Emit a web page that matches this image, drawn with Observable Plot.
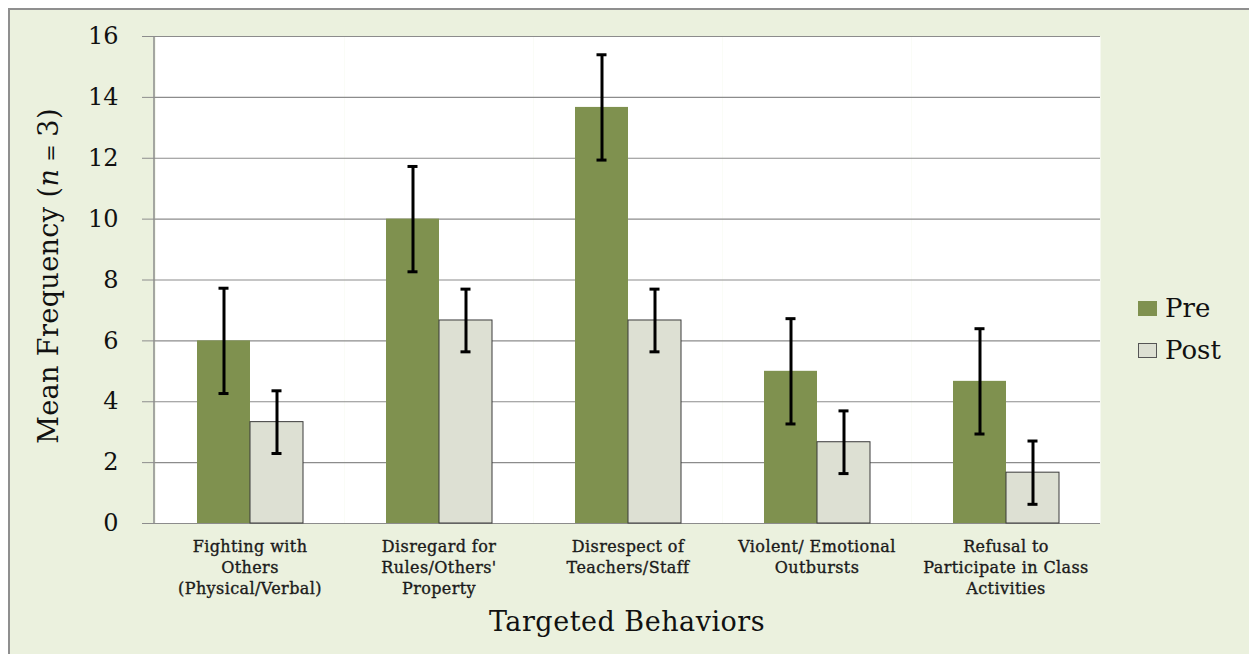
<!DOCTYPE html>
<html>
<head>
<meta charset="utf-8">
<script src="https://cdn.jsdelivr.net/npm/d3@7"></script>
<script src="https://cdn.jsdelivr.net/npm/@observablehq/plot@0.6"></script>
<style>
  html, body { margin: 0; padding: 0; background: #ffffff; }
  #wrap { position: relative; width: 1249px; height: 654px; overflow: hidden; }
  #panel { position: absolute; left: 8px; top: 8px; width: 1260px; height: 660px;
           background: #ebf1de; border: 2px solid #8f8f8f; box-sizing: border-box; }
  #chart { position: absolute; left: 0; top: 0; }
  #chart svg { background: transparent !important; }
  .legend { position: absolute; left: 1138px; font-family: "DejaVu Serif", serif;
            font-size: 26px; color: #111; display: flex; align-items: center; }
  .sw { width: 19px; height: 15px; margin-right: 8px; box-sizing: border-box; }
  .fxlab text { stroke: #1a1a1a; stroke-width: 0.35px; letter-spacing: 0.4px; }
</style>
</head>
<body>
<div id="wrap">
  <div id="panel"></div>
  <div id="chart"></div>
  <div class="legend" style="top:293px"><div class="sw" style="background:#7f914f"></div>Pre</div>
  <div class="legend" style="top:335px"><div class="sw" style="background:#dde0d3;border:1px solid #555"></div>Post</div>
</div>
<script>
const categories = [
  "Fighting with Others (Physical/Verbal)",
  "Disregard for Rules/Others' Property",
  "Disrespect of Teachers/Staff",
  "Violent/ Emotional Outbursts",
  "Refusal to Participate in Class Activities"
];
const tickLabels = [
  "Fighting with\nOthers\n(Physical/Verbal)",
  "Disregard for\nRules/Others'\nProperty",
  "Disrespect of\nTeachers/Staff",
  "Violent/ Emotional\nOutbursts",
  "Refusal to\nParticipate in Class\nActivities"
];
const series = ["Pre", "Post"];
const preValues = [6.0, 10.0, 13.67, 5.0, 4.67];
const postValues = [3.33, 6.67, 6.67, 2.67, 1.67];
const preErrors = [1.73, 1.73, 1.73, 1.73, 1.73];
const postErrors = [1.03, 1.03, 1.03, 1.03, 1.04];
const yTicks = [0, 2, 4, 6, 8, 10, 12, 14, 16];

const data = [];
categories.forEach((c, i) => {
  data.push({cat: c, series: "Pre", value: preValues[i], err: preErrors[i]});
  data.push({cat: c, series: "Post", value: postValues[i], err: postErrors[i]});
});
const labelOf = new Map(categories.map((c, i) => [c, tickLabels[i]]));

const chart = Plot.plot({
  width: 1249,
  height: 654,
  marginLeft: 154,
  marginRight: 148,
  marginTop: 36,
  marginBottom: 131,
  style: {background: "transparent", fontFamily: "DejaVu Serif, serif", color: "#111"},
  fx: {domain: categories, padding: 0, label: null},
  x: {domain: series, paddingInner: 0, paddingOuter: 0.767, axis: null},
  y: {domain: [0, 16], ticks: yTicks, label: null},
  marks: [
    Plot.frame({fill: "white", stroke: null}),
    Plot.ruleY(yTicks, {stroke: "#8c8c8c", strokeWidth: 1.2}),
    Plot.barY(data.filter(d => d.series === "Pre"), {fx: "cat", x: "series", y: "value", fill: "#7f914f"}),
    Plot.barY(data.filter(d => d.series === "Post"), {fx: "cat", x: "series", y: "value", fill: "#dde0d3", stroke: "#3a3a3a", strokeWidth: 1}),
    Plot.ruleX(data, {fx: "cat", x: "series", y1: d => d.value - d.err, y2: d => d.value + d.err, stroke: "#000", strokeWidth: 3}),
    Plot.tickY(data, {fx: "cat", x: "series", y: d => d.value + d.err, stroke: "#000", strokeWidth: 3, insetLeft: 21.5, insetRight: 21.5}),
    Plot.tickY(data, {fx: "cat", x: "series", y: d => d.value - d.err, stroke: "#000", strokeWidth: 3, insetLeft: 21.5, insetRight: 21.5}),
    Plot.axisY({ticks: yTicks, tickSize: 13, tickPadding: 24, fontSize: 24, fontFamily: "DejaVu Serif, serif", stroke: "#8c8c8c", label: null, fill: "#111"}),
    Plot.axisFx({anchor: "bottom", tickSize: 0, tickPadding: 14, fontSize: 16, fontFamily: "DejaVu Serif, serif", lineHeight: 1.3, label: null,
                 tickFormat: d => labelOf.get(d), fill: "#1a1a1a", className: "fxlab"})
  ]
});
document.getElementById("chart").appendChild(chart);

const svg = d3.select(chart);
// left axis line of the plot area
svg.append("line").attr("x1", 154).attr("x2", 154).attr("y1", 36).attr("y2", 523)
   .attr("stroke", "#8c8c8c").attr("stroke-width", 1.5);
svg.append("text").attr("x", 627).attr("y", 631).attr("text-anchor", "middle")
   .attr("font-family", "DejaVu Serif, serif").attr("font-size", 27).attr("fill", "#111")
   .attr("letter-spacing", 0.5)
   .text("Targeted Behaviors");
const yt = svg.append("text").attr("transform", "translate(58,276) rotate(-90)").attr("text-anchor", "middle")
   .attr("font-family", "DejaVu Serif, serif").attr("font-size", 27).attr("fill", "#111")
   .attr("letter-spacing", 0.4);
yt.append("tspan").text("Mean Frequency (");
yt.append("tspan").attr("font-style", "italic").text("n");
yt.append("tspan").attr("font-size", 21).text(" = ");
yt.append("tspan").text("3)");
</script>
</body>
</html>
